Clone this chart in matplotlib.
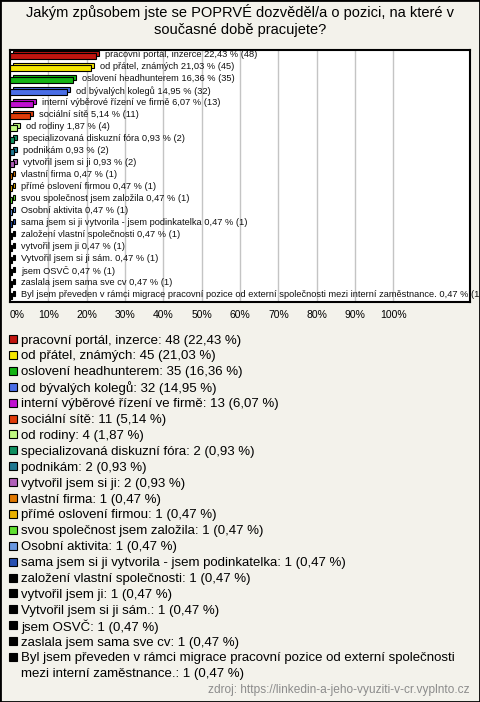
import matplotlib
matplotlib.use('Agg')
import matplotlib.pyplot as plt
from matplotlib.patches import Rectangle
import numpy as np

plt.rcParams['font.family'] = ['Liberation Sans', 'DejaVu Sans']

title = 'Jakým způsobem jste se POPRVÉ dozvěděl/a o pozici, na které v\nsoučasné době pracujete?'
source = 'zdroj: https://linkedin-a-jeho-vyuziti-v-cr.vyplnto.cz'

categories = [
    'pracovní portál, inzerce',
    'od přátel, známých',
    'oslovení headhunterem',
    'od bývalých kolegů',
    'interní výběrové řízení ve firmě',
    'sociální sítě',
    'od rodiny',
    'specializovaná diskuzní fóra',
    'podnikám',
    'vytvořil jsem si ji',
    'vlastní firma',
    'přímé oslovení firmou',
    'svou společnost jsem založila',
    'Osobní aktivita',
    'sama jsem si ji vytvorila - jsem podinkatelka',
    'založení vlastní společnosti',
    'vytvořil jsem ji',
    'Vytvořil jsem si ji sám.',
    'jsem OSVČ',
    'zaslala jsem sama sve cv',
    'Byl jsem převeden v rámci migrace pracovní pozice od externí společnosti mezi interní zaměstnance.',
]
counts = [48, 45, 35, 32, 13, 11, 4, 2, 2, 2, 1, 1, 1, 1, 1, 1, 1, 1, 1, 1, 1]
percents = [22.43, 21.03, 16.36, 14.95, 6.07, 5.14, 1.87, 0.93, 0.93, 0.93,
            0.47, 0.47, 0.47, 0.47, 0.47, 0.47, 0.47, 0.47, 0.47, 0.47, 0.47]
colors = ['#c0150f', '#f5e600', '#14b414', '#4a6ee6', '#c010d0', '#e03c0a',
          '#c0f880', '#109060', '#207890', '#b060b8', '#e07800', '#e8b000',
          '#60e030', '#6a98e0', '#2850b0', '#000000', '#000000', '#000000',
          '#000000', '#000000', '#000000']
ticks = np.arange(0, 101, 10)

bg = '#f3f2eb'
W, H = 480, 702


def cz(p):
    return f'{p:.2f}'.replace('.', ',')


def fy(py):
    # pixel row from top -> figure fraction
    return 1 - py / H


fig = plt.figure(figsize=(4.8, 7.02), dpi=100, facecolor=bg)
fig.text(0.5, fy(4), title, ha='center', va='top', fontsize=10.5, linespacing=1.25)

ax = fig.add_axes([10 / W, fy(302), 460 / W, 252 / H])
ax.set_facecolor('white')
y = np.arange(len(categories))

# "3D" bars: back face offset, then front face
dx, dy, h = 0.8, 0.22, 0.45
ax.barh(y - dy, percents, left=dx, height=h, color=colors, edgecolor='black', lw=0.8, zorder=2)
ax.barh(y, percents, height=h, color=colors, edgecolor='black', lw=0.8, zorder=3)

for yi, p, n, c in zip(y, percents, counts, categories):
    ax.annotate(f'{c} {cz(p)} % ({n})', (p, yi - 0.1), xytext=(6.5, 0),
                textcoords='offset points', va='center', ha='left',
                fontsize=6.7, color='#111111', annotation_clip=False,
                clip_on=False, zorder=4)

ax.set_xlim(0, 120)
ax.set_ylim(len(categories) - 0.5, -0.5)
ax.set_xticks(ticks)
ax.set_xticklabels([f'{t}%' for t in ticks], fontsize=7.5)
ax.get_xticklabels()[0].set_horizontalalignment('left')
ax.set_yticks([])
ax.tick_params(axis='x', length=0, pad=6)
ax.grid(axis='x', color='#c4c4c4', lw=1, zorder=0)
for s in ax.spines.values():
    s.set_linewidth(1.5)

# legend drawn row by row so spacing stays even
row0, step, sq = 339, 15.9, 8
for i, (c, n, p, col) in enumerate(zip(categories, counts, percents, colors)):
    py = row0 + i * step
    label = f'{c}: {n} ({cz(p)} %)'
    if i == len(categories) - 1:
        first, second = label.split('společnosti mezi')
        fig.text(21 / W, fy(py), first + 'společnosti', ha='left',
                 va='center_baseline', fontsize=9.5)
        fig.text(21 / W, fy(py + 15), 'mezi' + second, ha='left',
                 va='center_baseline', fontsize=9.5)
    else:
        fig.text(21 / W, fy(py), label, ha='left', va='center_baseline', fontsize=9.5)
    fig.add_artist(Rectangle((9 / W, fy(py + sq / 2)), sq / W, sq / H,
                             transform=fig.transFigure, facecolor=col,
                             edgecolor='black', lw=0.8))

fig.text(470 / W, fy(690), source, ha='right', va='center', fontsize=8.6, color='#8c8c8c')

fig.patches.append(Rectangle((0, 0), 1, 1, transform=fig.transFigure, fill=False,
                             edgecolor='black', lw=2))

fig.savefig('out.png', dpi=100, facecolor=bg)
